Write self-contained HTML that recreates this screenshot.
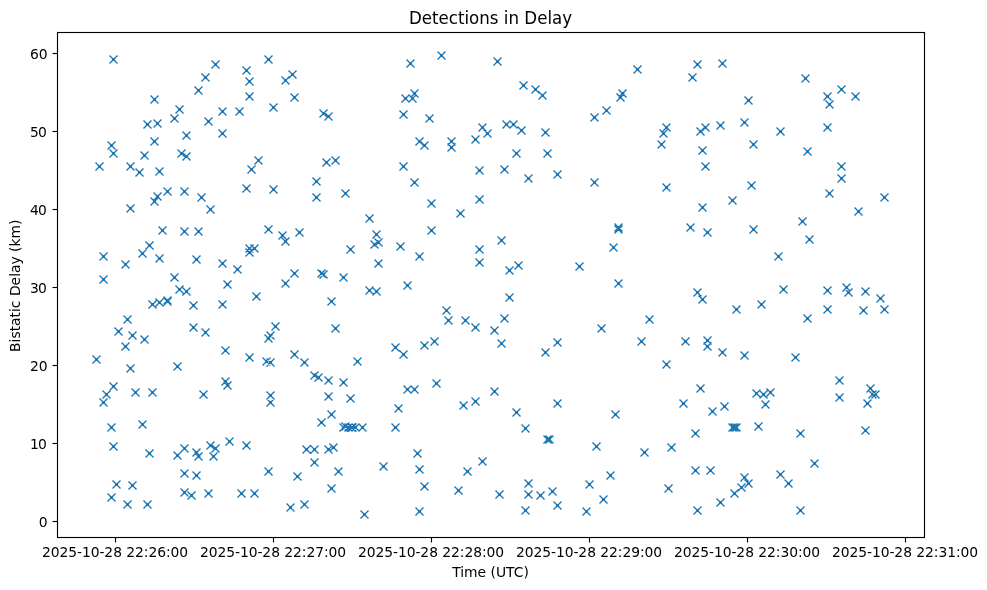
<!DOCTYPE html>
<html><head><meta charset="utf-8"><title>Detections in Delay</title>
<style>
html,body{margin:0;padding:0;background:#fff;width:987px;height:590px;overflow:hidden}
svg{display:block}
text{font-family:"DejaVu Sans","Liberation Sans",sans-serif;fill:#000}
</style></head><body>
<svg width="987" height="590" viewBox="0 0 987 590">
<rect width="987" height="590" fill="#fff"/>
<path d="M109.5 55.5L117.5 63.5M109.5 63.5L117.5 55.5M150.5 95.5L158.5 103.5M150.5 103.5L158.5 95.5M143.5 120.5L151.5 128.5M143.5 128.5L151.5 120.5M153.5 119.5L161.5 127.5M153.5 127.5L161.5 119.5M150.5 137.5L158.5 145.5M150.5 145.5L158.5 137.5M107.5 141.5L115.5 149.5M107.5 149.5L115.5 141.5M170.5 114.5L178.5 122.5M170.5 122.5L178.5 114.5M175.5 105.5L183.5 113.5M175.5 113.5L183.5 105.5M182.5 131.5L190.5 139.5M182.5 139.5L190.5 131.5M194.5 86.5L202.5 94.5M194.5 94.5L202.5 86.5M201.5 73.5L209.5 81.5M201.5 81.5L209.5 73.5M211.5 60.5L219.5 68.5M211.5 68.5L219.5 60.5M204.5 117.5L212.5 125.5M204.5 125.5L212.5 117.5M218.5 107.5L226.5 115.5M218.5 115.5L226.5 107.5M218.5 129.5L226.5 137.5M218.5 137.5L226.5 129.5M235.5 107.5L243.5 115.5M235.5 115.5L243.5 107.5M242.5 66.5L250.5 74.5M242.5 74.5L250.5 66.5M245.5 77.5L253.5 85.5M245.5 85.5L253.5 77.5M245.5 92.5L253.5 100.5M245.5 100.5L253.5 92.5M264.5 55.5L272.5 63.5M264.5 63.5L272.5 55.5M269.5 103.5L277.5 111.5M269.5 111.5L277.5 103.5M281.5 76.5L289.5 84.5M281.5 84.5L289.5 76.5M288.5 70.5L296.5 78.5M288.5 78.5L296.5 70.5M290.5 93.5L298.5 101.5M290.5 101.5L298.5 93.5M319.5 109.5L327.5 117.5M319.5 117.5L327.5 109.5M324.5 112.5L332.5 120.5M324.5 120.5L332.5 112.5M406.5 59.5L414.5 67.5M406.5 67.5L414.5 59.5M437.5 51.5L445.5 59.5M437.5 59.5L445.5 51.5M401.5 94.5L409.5 102.5M401.5 102.5L409.5 94.5M410.5 89.5L418.5 97.5M410.5 97.5L418.5 89.5M408.5 94.5L416.5 102.5M408.5 102.5L416.5 94.5M399.5 110.5L407.5 118.5M399.5 118.5L407.5 110.5M425.5 114.5L433.5 122.5M425.5 122.5L433.5 114.5M415.5 137.5L423.5 145.5M415.5 145.5L423.5 137.5M420.5 141.5L428.5 149.5M420.5 149.5L428.5 141.5M493.5 57.5L501.5 65.5M493.5 65.5L501.5 57.5M519.5 81.5L527.5 89.5M519.5 89.5L527.5 81.5M531.5 85.5L539.5 93.5M531.5 93.5L539.5 85.5M538.5 91.5L546.5 99.5M538.5 99.5L546.5 91.5M590.5 113.5L598.5 121.5M590.5 121.5L598.5 113.5M602.5 106.5L610.5 114.5M602.5 114.5L610.5 106.5M616.5 93.5L624.5 101.5M616.5 101.5L624.5 93.5M618.5 89.5L626.5 97.5M618.5 97.5L626.5 89.5M478.5 123.5L486.5 131.5M478.5 131.5L486.5 123.5M483.5 129.5L491.5 137.5M483.5 137.5L491.5 129.5M471.5 135.5L479.5 143.5M471.5 143.5L479.5 135.5M502.5 120.5L510.5 128.5M502.5 128.5L510.5 120.5M509.5 120.5L517.5 128.5M509.5 128.5L517.5 120.5M517.5 126.5L525.5 134.5M517.5 134.5L525.5 126.5M541.5 128.5L549.5 136.5M541.5 136.5L549.5 128.5M447.5 137.5L455.5 145.5M447.5 145.5L455.5 137.5M633.5 65.5L641.5 73.5M633.5 73.5L641.5 65.5M693.5 60.5L701.5 68.5M693.5 68.5L701.5 60.5M718.5 59.5L726.5 67.5M718.5 67.5L726.5 59.5M688.5 73.5L696.5 81.5M688.5 81.5L696.5 73.5M801.5 74.5L809.5 82.5M801.5 82.5L809.5 74.5M744.5 96.5L752.5 104.5M744.5 104.5L752.5 96.5M662.5 123.5L670.5 131.5M662.5 131.5L670.5 123.5M659.5 129.5L667.5 137.5M659.5 137.5L667.5 129.5M657.5 140.5L665.5 148.5M657.5 148.5L665.5 140.5M696.5 127.5L704.5 135.5M696.5 135.5L704.5 127.5M701.5 123.5L709.5 131.5M701.5 131.5L709.5 123.5M716.5 121.5L724.5 129.5M716.5 129.5L724.5 121.5M740.5 118.5L748.5 126.5M740.5 126.5L748.5 118.5M776.5 127.5L784.5 135.5M776.5 135.5L784.5 127.5M749.5 140.5L757.5 148.5M749.5 148.5L757.5 140.5M823.5 92.5L831.5 100.5M823.5 100.5L831.5 92.5M825.5 100.5L833.5 108.5M825.5 108.5L833.5 100.5M837.5 85.5L845.5 93.5M837.5 93.5L845.5 85.5M851.5 92.5L859.5 100.5M851.5 100.5L859.5 92.5M823.5 123.5L831.5 131.5M823.5 131.5L831.5 123.5M109.5 149.5L117.5 157.5M109.5 157.5L117.5 149.5M140.5 151.5L148.5 159.5M140.5 159.5L148.5 151.5M95.5 162.5L103.5 170.5M95.5 170.5L103.5 162.5M126.5 162.5L134.5 170.5M126.5 170.5L134.5 162.5M135.5 168.5L143.5 176.5M135.5 176.5L143.5 168.5M155.5 167.5L163.5 175.5M155.5 175.5L163.5 167.5M177.5 149.5L185.5 157.5M177.5 157.5L185.5 149.5M182.5 152.5L190.5 160.5M182.5 160.5L190.5 152.5M247.5 165.5L255.5 173.5M247.5 173.5L255.5 165.5M242.5 184.5L250.5 192.5M242.5 192.5L250.5 184.5M163.5 187.5L171.5 195.5M163.5 195.5L171.5 187.5M180.5 187.5L188.5 195.5M180.5 195.5L188.5 187.5M153.5 192.5L161.5 200.5M153.5 200.5L161.5 192.5M150.5 197.5L158.5 205.5M150.5 205.5L158.5 197.5M197.5 193.5L205.5 201.5M197.5 201.5L205.5 193.5M206.5 205.5L214.5 213.5M206.5 213.5L214.5 205.5M126.5 204.5L134.5 212.5M126.5 212.5L134.5 204.5M158.5 226.5L166.5 234.5M158.5 234.5L166.5 226.5M180.5 227.5L188.5 235.5M180.5 235.5L188.5 227.5M194.5 227.5L202.5 235.5M194.5 235.5L202.5 227.5M145.5 241.5L153.5 249.5M145.5 249.5L153.5 241.5M138.5 249.5L146.5 257.5M138.5 257.5L146.5 249.5M99.5 252.5L107.5 260.5M99.5 260.5L107.5 252.5M254.5 156.5L262.5 164.5M254.5 164.5L262.5 156.5M269.5 185.5L277.5 193.5M269.5 193.5L277.5 185.5M322.5 158.5L330.5 166.5M322.5 166.5L330.5 158.5M331.5 156.5L339.5 164.5M331.5 164.5L339.5 156.5M312.5 177.5L320.5 185.5M312.5 185.5L320.5 177.5M312.5 193.5L320.5 201.5M312.5 201.5L320.5 193.5M341.5 189.5L349.5 197.5M341.5 197.5L349.5 189.5M399.5 162.5L407.5 170.5M399.5 170.5L407.5 162.5M410.5 178.5L418.5 186.5M410.5 186.5L418.5 178.5M427.5 199.5L435.5 207.5M427.5 207.5L435.5 199.5M365.5 214.5L373.5 222.5M365.5 222.5L373.5 214.5M372.5 230.5L380.5 238.5M372.5 238.5L380.5 230.5M374.5 238.5L382.5 246.5M374.5 246.5L382.5 238.5M370.5 240.5L378.5 248.5M370.5 248.5L378.5 240.5M396.5 242.5L404.5 250.5M396.5 250.5L404.5 242.5M427.5 226.5L435.5 234.5M427.5 234.5L435.5 226.5M415.5 252.5L423.5 260.5M415.5 260.5L423.5 252.5M346.5 245.5L354.5 253.5M346.5 253.5L354.5 245.5M264.5 225.5L272.5 233.5M264.5 233.5L272.5 225.5M278.5 231.5L286.5 239.5M278.5 239.5L286.5 231.5M281.5 237.5L289.5 245.5M281.5 245.5L289.5 237.5M295.5 228.5L303.5 236.5M295.5 236.5L303.5 228.5M447.5 143.5L455.5 151.5M447.5 151.5L455.5 143.5M512.5 149.5L520.5 157.5M512.5 157.5L520.5 149.5M543.5 149.5L551.5 157.5M543.5 157.5L551.5 149.5M475.5 166.5L483.5 174.5M475.5 174.5L483.5 166.5M500.5 165.5L508.5 173.5M500.5 173.5L508.5 165.5M524.5 174.5L532.5 182.5M524.5 182.5L532.5 174.5M553.5 170.5L561.5 178.5M553.5 178.5L561.5 170.5M590.5 178.5L598.5 186.5M590.5 186.5L598.5 178.5M475.5 195.5L483.5 203.5M475.5 203.5L483.5 195.5M456.5 209.5L464.5 217.5M456.5 217.5L464.5 209.5M609.5 243.5L617.5 251.5M609.5 251.5L617.5 243.5M497.5 236.5L505.5 244.5M497.5 244.5L505.5 236.5M475.5 245.5L483.5 253.5M475.5 253.5L483.5 245.5M698.5 146.5L706.5 154.5M698.5 154.5L706.5 146.5M803.5 147.5L811.5 155.5M803.5 155.5L811.5 147.5M701.5 162.5L709.5 170.5M701.5 170.5L709.5 162.5M662.5 183.5L670.5 191.5M662.5 191.5L670.5 183.5M747.5 181.5L755.5 189.5M747.5 189.5L755.5 181.5M728.5 196.5L736.5 204.5M728.5 204.5L736.5 196.5M698.5 203.5L706.5 211.5M698.5 211.5L706.5 203.5M686.5 223.5L694.5 231.5M686.5 231.5L694.5 223.5M703.5 228.5L711.5 236.5M703.5 236.5L711.5 228.5M749.5 225.5L757.5 233.5M749.5 233.5L757.5 225.5M798.5 217.5L806.5 225.5M798.5 225.5L806.5 217.5M805.5 235.5L813.5 243.5M805.5 243.5L813.5 235.5M774.5 252.5L782.5 260.5M774.5 260.5L782.5 252.5M837.5 162.5L845.5 170.5M837.5 170.5L845.5 162.5M837.5 174.5L845.5 182.5M837.5 182.5L845.5 174.5M825.5 189.5L833.5 197.5M825.5 197.5L833.5 189.5M880.5 193.5L888.5 201.5M880.5 201.5L888.5 193.5M854.5 207.5L862.5 215.5M854.5 215.5L862.5 207.5M155.5 254.5L163.5 262.5M155.5 262.5L163.5 254.5M192.5 255.5L200.5 263.5M192.5 263.5L200.5 255.5M121.5 260.5L129.5 268.5M121.5 268.5L129.5 260.5M218.5 259.5L226.5 267.5M218.5 267.5L226.5 259.5M233.5 265.5L241.5 273.5M233.5 273.5L241.5 265.5M99.5 275.5L107.5 283.5M99.5 283.5L107.5 275.5M170.5 273.5L178.5 281.5M170.5 281.5L178.5 273.5M175.5 285.5L183.5 293.5M175.5 293.5L183.5 285.5M182.5 287.5L190.5 295.5M182.5 295.5L190.5 287.5M223.5 280.5L231.5 288.5M223.5 288.5L231.5 280.5M189.5 301.5L197.5 309.5M189.5 309.5L197.5 301.5M218.5 300.5L226.5 308.5M218.5 308.5L226.5 300.5M123.5 315.5L131.5 323.5M123.5 323.5L131.5 315.5M114.5 327.5L122.5 335.5M114.5 335.5L122.5 327.5M128.5 331.5L136.5 339.5M128.5 339.5L136.5 331.5M140.5 335.5L148.5 343.5M140.5 343.5L148.5 335.5M121.5 342.5L129.5 350.5M121.5 350.5L129.5 342.5M92.5 355.5L100.5 363.5M92.5 363.5L100.5 355.5M189.5 323.5L197.5 331.5M189.5 331.5L197.5 323.5M201.5 328.5L209.5 336.5M201.5 336.5L209.5 328.5M221.5 346.5L229.5 354.5M221.5 354.5L229.5 346.5M245.5 353.5L253.5 361.5M245.5 361.5L253.5 353.5M374.5 259.5L382.5 267.5M374.5 267.5L382.5 259.5M290.5 269.5L298.5 277.5M290.5 277.5L298.5 269.5M281.5 279.5L289.5 287.5M281.5 287.5L289.5 279.5M339.5 273.5L347.5 281.5M339.5 281.5L347.5 273.5M252.5 292.5L260.5 300.5M252.5 300.5L260.5 292.5M327.5 297.5L335.5 305.5M327.5 305.5L335.5 297.5M365.5 286.5L373.5 294.5M365.5 294.5L373.5 286.5M372.5 287.5L380.5 295.5M372.5 295.5L380.5 287.5M403.5 281.5L411.5 289.5M403.5 289.5L411.5 281.5M271.5 322.5L279.5 330.5M271.5 330.5L279.5 322.5M331.5 324.5L339.5 332.5M331.5 332.5L339.5 324.5M290.5 350.5L298.5 358.5M290.5 358.5L298.5 350.5M300.5 358.5L308.5 366.5M300.5 366.5L308.5 358.5M353.5 357.5L361.5 365.5M353.5 365.5L361.5 357.5M391.5 343.5L399.5 351.5M391.5 351.5L399.5 343.5M399.5 350.5L407.5 358.5M399.5 358.5L407.5 350.5M420.5 341.5L428.5 349.5M420.5 349.5L428.5 341.5M430.5 337.5L438.5 345.5M430.5 345.5L438.5 337.5M475.5 258.5L483.5 266.5M475.5 266.5L483.5 258.5M505.5 266.5L513.5 274.5M505.5 274.5L513.5 266.5M514.5 261.5L522.5 269.5M514.5 269.5L522.5 261.5M575.5 262.5L583.5 270.5M575.5 270.5L583.5 262.5M614.5 279.5L622.5 287.5M614.5 287.5L622.5 279.5M505.5 293.5L513.5 301.5M505.5 301.5L513.5 293.5M442.5 306.5L450.5 314.5M442.5 314.5L450.5 306.5M444.5 316.5L452.5 324.5M444.5 324.5L452.5 316.5M461.5 316.5L469.5 324.5M461.5 324.5L469.5 316.5M471.5 323.5L479.5 331.5M471.5 331.5L479.5 323.5M490.5 326.5L498.5 334.5M490.5 334.5L498.5 326.5M500.5 314.5L508.5 322.5M500.5 322.5L508.5 314.5M497.5 339.5L505.5 347.5M497.5 347.5L505.5 339.5M541.5 348.5L549.5 356.5M541.5 356.5L549.5 348.5M553.5 338.5L561.5 346.5M553.5 346.5L561.5 338.5M597.5 324.5L605.5 332.5M597.5 332.5L605.5 324.5M693.5 288.5L701.5 296.5M693.5 296.5L701.5 288.5M698.5 295.5L706.5 303.5M698.5 303.5L706.5 295.5M732.5 305.5L740.5 313.5M732.5 313.5L740.5 305.5M757.5 300.5L765.5 308.5M757.5 308.5L765.5 300.5M779.5 285.5L787.5 293.5M779.5 293.5L787.5 285.5M803.5 314.5L811.5 322.5M803.5 322.5L811.5 314.5M645.5 315.5L653.5 323.5M645.5 323.5L653.5 315.5M637.5 337.5L645.5 345.5M637.5 345.5L645.5 337.5M662.5 360.5L670.5 368.5M662.5 368.5L670.5 360.5M681.5 337.5L689.5 345.5M681.5 345.5L689.5 337.5M703.5 336.5L711.5 344.5M703.5 344.5L711.5 336.5M703.5 342.5L711.5 350.5M703.5 350.5L711.5 342.5M718.5 348.5L726.5 356.5M718.5 356.5L726.5 348.5M740.5 351.5L748.5 359.5M740.5 359.5L748.5 351.5M791.5 353.5L799.5 361.5M791.5 361.5L799.5 353.5M823.5 286.5L831.5 294.5M823.5 294.5L831.5 286.5M842.5 283.5L850.5 291.5M842.5 291.5L850.5 283.5M844.5 288.5L852.5 296.5M844.5 296.5L852.5 288.5M861.5 287.5L869.5 295.5M861.5 295.5L869.5 287.5M876.5 294.5L884.5 302.5M876.5 302.5L884.5 294.5M823.5 305.5L831.5 313.5M823.5 313.5L831.5 305.5M859.5 306.5L867.5 314.5M859.5 314.5L867.5 306.5M880.5 305.5L888.5 313.5M880.5 313.5L888.5 305.5M126.5 364.5L134.5 372.5M126.5 372.5L134.5 364.5M173.5 362.5L181.5 370.5M173.5 370.5L181.5 362.5M109.5 382.5L117.5 390.5M109.5 390.5L117.5 382.5M102.5 390.5L110.5 398.5M102.5 398.5L110.5 390.5M99.5 398.5L107.5 406.5M99.5 406.5L107.5 398.5M131.5 388.5L139.5 396.5M131.5 396.5L139.5 388.5M148.5 388.5L156.5 396.5M148.5 396.5L156.5 388.5M199.5 390.5L207.5 398.5M199.5 398.5L207.5 390.5M221.5 377.5L229.5 385.5M221.5 385.5L229.5 377.5M223.5 381.5L231.5 389.5M223.5 389.5L231.5 381.5M107.5 423.5L115.5 431.5M107.5 431.5L115.5 423.5M138.5 420.5L146.5 428.5M138.5 428.5L146.5 420.5M109.5 442.5L117.5 450.5M109.5 450.5L117.5 442.5M145.5 449.5L153.5 457.5M145.5 457.5L153.5 449.5M173.5 451.5L181.5 459.5M173.5 459.5L181.5 451.5M180.5 444.5L188.5 452.5M180.5 452.5L188.5 444.5M225.5 437.5L233.5 445.5M225.5 445.5L233.5 437.5M242.5 441.5L250.5 449.5M242.5 449.5L250.5 441.5M180.5 469.5L188.5 477.5M180.5 477.5L188.5 469.5M192.5 471.5L200.5 479.5M192.5 479.5L200.5 471.5M310.5 371.5L318.5 379.5M310.5 379.5L318.5 371.5M314.5 373.5L322.5 381.5M314.5 381.5L322.5 373.5M324.5 376.5L332.5 384.5M324.5 384.5L332.5 376.5M339.5 378.5L347.5 386.5M339.5 386.5L347.5 378.5M266.5 391.5L274.5 399.5M266.5 399.5L274.5 391.5M266.5 398.5L274.5 406.5M266.5 406.5L274.5 398.5M324.5 392.5L332.5 400.5M324.5 400.5L332.5 392.5M346.5 394.5L354.5 402.5M346.5 402.5L354.5 394.5M327.5 410.5L335.5 418.5M327.5 418.5L335.5 410.5M317.5 418.5L325.5 426.5M317.5 426.5L325.5 418.5M403.5 385.5L411.5 393.5M403.5 393.5L411.5 385.5M410.5 385.5L418.5 393.5M410.5 393.5L418.5 385.5M432.5 379.5L440.5 387.5M432.5 387.5L440.5 379.5M394.5 404.5L402.5 412.5M394.5 412.5L402.5 404.5M391.5 423.5L399.5 431.5M391.5 431.5L399.5 423.5M302.5 445.5L310.5 453.5M302.5 453.5L310.5 445.5M310.5 445.5L318.5 453.5M310.5 453.5L318.5 445.5M324.5 445.5L332.5 453.5M324.5 453.5L332.5 445.5M329.5 443.5L337.5 451.5M329.5 451.5L337.5 443.5M310.5 458.5L318.5 466.5M310.5 466.5L318.5 458.5M264.5 467.5L272.5 475.5M264.5 475.5L272.5 467.5M293.5 472.5L301.5 480.5M293.5 480.5L301.5 472.5M334.5 467.5L342.5 475.5M334.5 475.5L342.5 467.5M379.5 462.5L387.5 470.5M379.5 470.5L387.5 462.5M413.5 449.5L421.5 457.5M413.5 457.5L421.5 449.5M415.5 465.5L423.5 473.5M415.5 473.5L423.5 465.5M459.5 401.5L467.5 409.5M459.5 409.5L467.5 401.5M471.5 397.5L479.5 405.5M471.5 405.5L479.5 397.5M490.5 387.5L498.5 395.5M490.5 395.5L498.5 387.5M512.5 408.5L520.5 416.5M512.5 416.5L520.5 408.5M521.5 424.5L529.5 432.5M521.5 432.5L529.5 424.5M553.5 399.5L561.5 407.5M553.5 407.5L561.5 399.5M611.5 410.5L619.5 418.5M611.5 418.5L619.5 410.5M592.5 442.5L600.5 450.5M592.5 450.5L600.5 442.5M478.5 457.5L486.5 465.5M478.5 465.5L486.5 457.5M463.5 467.5L471.5 475.5M463.5 475.5L471.5 467.5M606.5 471.5L614.5 479.5M606.5 479.5L614.5 471.5M696.5 384.5L704.5 392.5M696.5 392.5L704.5 384.5M679.5 399.5L687.5 407.5M679.5 407.5L687.5 399.5M708.5 407.5L716.5 415.5M708.5 415.5L716.5 407.5M720.5 402.5L728.5 410.5M720.5 410.5L728.5 402.5M752.5 389.5L760.5 397.5M752.5 397.5L760.5 389.5M759.5 390.5L767.5 398.5M759.5 398.5L767.5 390.5M766.5 388.5L774.5 396.5M766.5 396.5L774.5 388.5M761.5 400.5L769.5 408.5M761.5 408.5L769.5 400.5M754.5 422.5L762.5 430.5M754.5 430.5L762.5 422.5M691.5 429.5L699.5 437.5M691.5 437.5L699.5 429.5M796.5 429.5L804.5 437.5M796.5 437.5L804.5 429.5M667.5 443.5L675.5 451.5M667.5 451.5L675.5 443.5M640.5 448.5L648.5 456.5M640.5 456.5L648.5 448.5M691.5 466.5L699.5 474.5M691.5 474.5L699.5 466.5M706.5 466.5L714.5 474.5M706.5 474.5L714.5 466.5M740.5 473.5L748.5 481.5M740.5 481.5L748.5 473.5M776.5 470.5L784.5 478.5M776.5 478.5L784.5 470.5M810.5 459.5L818.5 467.5M810.5 467.5L818.5 459.5M835.5 376.5L843.5 384.5M835.5 384.5L843.5 376.5M835.5 393.5L843.5 401.5M835.5 401.5L843.5 393.5M863.5 399.5L871.5 407.5M863.5 407.5L871.5 399.5M861.5 426.5L869.5 434.5M861.5 434.5L869.5 426.5M112.5 480.5L120.5 488.5M112.5 488.5L120.5 480.5M128.5 481.5L136.5 489.5M128.5 489.5L136.5 481.5M107.5 493.5L115.5 501.5M107.5 501.5L115.5 493.5M123.5 500.5L131.5 508.5M123.5 508.5L131.5 500.5M143.5 500.5L151.5 508.5M143.5 508.5L151.5 500.5M180.5 488.5L188.5 496.5M180.5 496.5L188.5 488.5M187.5 491.5L195.5 499.5M187.5 499.5L195.5 491.5M204.5 489.5L212.5 497.5M204.5 497.5L212.5 489.5M237.5 489.5L245.5 497.5M237.5 497.5L245.5 489.5M420.5 482.5L428.5 490.5M420.5 490.5L428.5 482.5M327.5 484.5L335.5 492.5M327.5 492.5L335.5 484.5M250.5 489.5L258.5 497.5M250.5 497.5L258.5 489.5M286.5 503.5L294.5 511.5M286.5 511.5L294.5 503.5M300.5 500.5L308.5 508.5M300.5 508.5L308.5 500.5M360.5 510.5L368.5 518.5M360.5 518.5L368.5 510.5M415.5 507.5L423.5 515.5M415.5 515.5L423.5 507.5M454.5 486.5L462.5 494.5M454.5 494.5L462.5 486.5M495.5 490.5L503.5 498.5M495.5 498.5L503.5 490.5M524.5 479.5L532.5 487.5M524.5 487.5L532.5 479.5M524.5 490.5L532.5 498.5M524.5 498.5L532.5 490.5M521.5 506.5L529.5 514.5M521.5 514.5L529.5 506.5M536.5 491.5L544.5 499.5M536.5 499.5L544.5 491.5M548.5 487.5L556.5 495.5M548.5 495.5L556.5 487.5M553.5 501.5L561.5 509.5M553.5 509.5L561.5 501.5M585.5 480.5L593.5 488.5M585.5 488.5L593.5 480.5M582.5 507.5L590.5 515.5M582.5 515.5L590.5 507.5M599.5 495.5L607.5 503.5M599.5 503.5L607.5 495.5M664.5 484.5L672.5 492.5M664.5 492.5L672.5 484.5M693.5 506.5L701.5 514.5M693.5 514.5L701.5 506.5M716.5 498.5L724.5 506.5M716.5 506.5L724.5 498.5M730.5 489.5L738.5 497.5M730.5 497.5L738.5 489.5M737.5 483.5L745.5 491.5M737.5 491.5L745.5 483.5M744.5 479.5L752.5 487.5M744.5 487.5L752.5 479.5M784.5 479.5L792.5 487.5M784.5 487.5L792.5 479.5M796.5 506.5L804.5 514.5M796.5 514.5L804.5 506.5M245.5 244.5L253.5 252.5M245.5 252.5L253.5 244.5M250.5 244.5L258.5 252.5M250.5 252.5L258.5 244.5M245.5 248.5L253.5 256.5M245.5 256.5L253.5 248.5M614.5 223.5L622.5 231.5M614.5 231.5L622.5 223.5M614.5 225.5L622.5 233.5M614.5 233.5L622.5 225.5M148.5 300.5L156.5 308.5M148.5 308.5L156.5 300.5M155.5 298.5L163.5 306.5M155.5 306.5L163.5 298.5M163.5 296.5L171.5 304.5M163.5 304.5L171.5 296.5M163.5 297.5L171.5 305.5M163.5 305.5L171.5 297.5M317.5 269.5L325.5 277.5M317.5 277.5L325.5 269.5M319.5 270.5L327.5 278.5M319.5 278.5L327.5 270.5M264.5 334.5L272.5 342.5M264.5 342.5L272.5 334.5M266.5 331.5L274.5 339.5M266.5 339.5L274.5 331.5M262.5 357.5L270.5 365.5M262.5 365.5L270.5 357.5M266.5 358.5L274.5 366.5M266.5 366.5L274.5 358.5M192.5 448.5L200.5 456.5M192.5 456.5L200.5 448.5M194.5 452.5L202.5 460.5M194.5 460.5L202.5 452.5M206.5 441.5L214.5 449.5M206.5 449.5L214.5 441.5M211.5 444.5L219.5 452.5M211.5 452.5L219.5 444.5M209.5 452.5L217.5 460.5M209.5 460.5L217.5 452.5M339.5 423.5L347.5 431.5M339.5 431.5L347.5 423.5M341.5 422.5L349.5 430.5M341.5 430.5L349.5 422.5M344.5 423.5L352.5 431.5M344.5 431.5L352.5 423.5M347.5 423.5L355.5 431.5M347.5 431.5L355.5 423.5M348.5 423.5L356.5 431.5M348.5 431.5L356.5 423.5M351.5 423.5L359.5 431.5M351.5 431.5L359.5 423.5M358.5 423.5L366.5 431.5M358.5 431.5L366.5 423.5M543.5 435.5L551.5 443.5M543.5 443.5L551.5 435.5M545.5 435.5L553.5 443.5M545.5 443.5L553.5 435.5M728.5 423.5L736.5 431.5M728.5 431.5L736.5 423.5M730.5 423.5L738.5 431.5M730.5 431.5L738.5 423.5M732.5 423.5L740.5 431.5M732.5 431.5L740.5 423.5M866.5 384.5L874.5 392.5M866.5 392.5L874.5 384.5M868.5 390.5L876.5 398.5M868.5 398.5L876.5 390.5M871.5 390.5L879.5 398.5M871.5 398.5L879.5 390.5" fill="none" stroke="#1f77b4" stroke-width="1.389"/><path d="M112 59h3v1h-3zM113 58h1v3h-1zM153 99h3v1h-3zM154 98h1v3h-1zM146 124h3v1h-3zM147 123h1v3h-1zM156 123h3v1h-3zM157 122h1v3h-1zM153 141h3v1h-3zM154 140h1v3h-1zM110 145h3v1h-3zM111 144h1v3h-1zM173 118h3v1h-3zM174 117h1v3h-1zM178 109h3v1h-3zM179 108h1v3h-1zM185 135h3v1h-3zM186 134h1v3h-1zM197 90h3v1h-3zM198 89h1v3h-1zM204 77h3v1h-3zM205 76h1v3h-1zM214 64h3v1h-3zM215 63h1v3h-1zM207 121h3v1h-3zM208 120h1v3h-1zM221 111h3v1h-3zM222 110h1v3h-1zM221 133h3v1h-3zM222 132h1v3h-1zM238 111h3v1h-3zM239 110h1v3h-1zM245 70h3v1h-3zM246 69h1v3h-1zM248 81h3v1h-3zM249 80h1v3h-1zM248 96h3v1h-3zM249 95h1v3h-1zM267 59h3v1h-3zM268 58h1v3h-1zM272 107h3v1h-3zM273 106h1v3h-1zM284 80h3v1h-3zM285 79h1v3h-1zM291 74h3v1h-3zM292 73h1v3h-1zM293 97h3v1h-3zM294 96h1v3h-1zM322 113h3v1h-3zM323 112h1v3h-1zM327 116h3v1h-3zM328 115h1v3h-1zM409 63h3v1h-3zM410 62h1v3h-1zM440 55h3v1h-3zM441 54h1v3h-1zM404 98h3v1h-3zM405 97h1v3h-1zM413 93h3v1h-3zM414 92h1v3h-1zM411 98h3v1h-3zM412 97h1v3h-1zM402 114h3v1h-3zM403 113h1v3h-1zM428 118h3v1h-3zM429 117h1v3h-1zM418 141h3v1h-3zM419 140h1v3h-1zM423 145h3v1h-3zM424 144h1v3h-1zM496 61h3v1h-3zM497 60h1v3h-1zM522 85h3v1h-3zM523 84h1v3h-1zM534 89h3v1h-3zM535 88h1v3h-1zM541 95h3v1h-3zM542 94h1v3h-1zM593 117h3v1h-3zM594 116h1v3h-1zM605 110h3v1h-3zM606 109h1v3h-1zM619 97h3v1h-3zM620 96h1v3h-1zM621 93h3v1h-3zM622 92h1v3h-1zM481 127h3v1h-3zM482 126h1v3h-1zM486 133h3v1h-3zM487 132h1v3h-1zM474 139h3v1h-3zM475 138h1v3h-1zM505 124h3v1h-3zM506 123h1v3h-1zM512 124h3v1h-3zM513 123h1v3h-1zM520 130h3v1h-3zM521 129h1v3h-1zM544 132h3v1h-3zM545 131h1v3h-1zM450 141h3v1h-3zM451 140h1v3h-1zM636 69h3v1h-3zM637 68h1v3h-1zM696 64h3v1h-3zM697 63h1v3h-1zM721 63h3v1h-3zM722 62h1v3h-1zM691 77h3v1h-3zM692 76h1v3h-1zM804 78h3v1h-3zM805 77h1v3h-1zM747 100h3v1h-3zM748 99h1v3h-1zM665 127h3v1h-3zM666 126h1v3h-1zM662 133h3v1h-3zM663 132h1v3h-1zM660 144h3v1h-3zM661 143h1v3h-1zM699 131h3v1h-3zM700 130h1v3h-1zM704 127h3v1h-3zM705 126h1v3h-1zM719 125h3v1h-3zM720 124h1v3h-1zM743 122h3v1h-3zM744 121h1v3h-1zM779 131h3v1h-3zM780 130h1v3h-1zM752 144h3v1h-3zM753 143h1v3h-1zM826 96h3v1h-3zM827 95h1v3h-1zM828 104h3v1h-3zM829 103h1v3h-1zM840 89h3v1h-3zM841 88h1v3h-1zM854 96h3v1h-3zM855 95h1v3h-1zM826 127h3v1h-3zM827 126h1v3h-1zM112 153h3v1h-3zM113 152h1v3h-1zM143 155h3v1h-3zM144 154h1v3h-1zM98 166h3v1h-3zM99 165h1v3h-1zM129 166h3v1h-3zM130 165h1v3h-1zM138 172h3v1h-3zM139 171h1v3h-1zM158 171h3v1h-3zM159 170h1v3h-1zM180 153h3v1h-3zM181 152h1v3h-1zM185 156h3v1h-3zM186 155h1v3h-1zM250 169h3v1h-3zM251 168h1v3h-1zM245 188h3v1h-3zM246 187h1v3h-1zM166 191h3v1h-3zM167 190h1v3h-1zM183 191h3v1h-3zM184 190h1v3h-1zM156 196h3v1h-3zM157 195h1v3h-1zM153 201h3v1h-3zM154 200h1v3h-1zM200 197h3v1h-3zM201 196h1v3h-1zM209 209h3v1h-3zM210 208h1v3h-1zM129 208h3v1h-3zM130 207h1v3h-1zM161 230h3v1h-3zM162 229h1v3h-1zM183 231h3v1h-3zM184 230h1v3h-1zM197 231h3v1h-3zM198 230h1v3h-1zM148 245h3v1h-3zM149 244h1v3h-1zM141 253h3v1h-3zM142 252h1v3h-1zM102 256h3v1h-3zM103 255h1v3h-1zM257 160h3v1h-3zM258 159h1v3h-1zM272 189h3v1h-3zM273 188h1v3h-1zM325 162h3v1h-3zM326 161h1v3h-1zM334 160h3v1h-3zM335 159h1v3h-1zM315 181h3v1h-3zM316 180h1v3h-1zM315 197h3v1h-3zM316 196h1v3h-1zM344 193h3v1h-3zM345 192h1v3h-1zM402 166h3v1h-3zM403 165h1v3h-1zM413 182h3v1h-3zM414 181h1v3h-1zM430 203h3v1h-3zM431 202h1v3h-1zM368 218h3v1h-3zM369 217h1v3h-1zM375 234h3v1h-3zM376 233h1v3h-1zM377 242h3v1h-3zM378 241h1v3h-1zM373 244h3v1h-3zM374 243h1v3h-1zM399 246h3v1h-3zM400 245h1v3h-1zM430 230h3v1h-3zM431 229h1v3h-1zM418 256h3v1h-3zM419 255h1v3h-1zM349 249h3v1h-3zM350 248h1v3h-1zM267 229h3v1h-3zM268 228h1v3h-1zM281 235h3v1h-3zM282 234h1v3h-1zM284 241h3v1h-3zM285 240h1v3h-1zM298 232h3v1h-3zM299 231h1v3h-1zM450 147h3v1h-3zM451 146h1v3h-1zM515 153h3v1h-3zM516 152h1v3h-1zM546 153h3v1h-3zM547 152h1v3h-1zM478 170h3v1h-3zM479 169h1v3h-1zM503 169h3v1h-3zM504 168h1v3h-1zM527 178h3v1h-3zM528 177h1v3h-1zM556 174h3v1h-3zM557 173h1v3h-1zM593 182h3v1h-3zM594 181h1v3h-1zM478 199h3v1h-3zM479 198h1v3h-1zM459 213h3v1h-3zM460 212h1v3h-1zM612 247h3v1h-3zM613 246h1v3h-1zM500 240h3v1h-3zM501 239h1v3h-1zM478 249h3v1h-3zM479 248h1v3h-1zM701 150h3v1h-3zM702 149h1v3h-1zM806 151h3v1h-3zM807 150h1v3h-1zM704 166h3v1h-3zM705 165h1v3h-1zM665 187h3v1h-3zM666 186h1v3h-1zM750 185h3v1h-3zM751 184h1v3h-1zM731 200h3v1h-3zM732 199h1v3h-1zM701 207h3v1h-3zM702 206h1v3h-1zM689 227h3v1h-3zM690 226h1v3h-1zM706 232h3v1h-3zM707 231h1v3h-1zM752 229h3v1h-3zM753 228h1v3h-1zM801 221h3v1h-3zM802 220h1v3h-1zM808 239h3v1h-3zM809 238h1v3h-1zM777 256h3v1h-3zM778 255h1v3h-1zM840 166h3v1h-3zM841 165h1v3h-1zM840 178h3v1h-3zM841 177h1v3h-1zM828 193h3v1h-3zM829 192h1v3h-1zM883 197h3v1h-3zM884 196h1v3h-1zM857 211h3v1h-3zM858 210h1v3h-1zM158 258h3v1h-3zM159 257h1v3h-1zM195 259h3v1h-3zM196 258h1v3h-1zM124 264h3v1h-3zM125 263h1v3h-1zM221 263h3v1h-3zM222 262h1v3h-1zM236 269h3v1h-3zM237 268h1v3h-1zM102 279h3v1h-3zM103 278h1v3h-1zM173 277h3v1h-3zM174 276h1v3h-1zM178 289h3v1h-3zM179 288h1v3h-1zM185 291h3v1h-3zM186 290h1v3h-1zM226 284h3v1h-3zM227 283h1v3h-1zM192 305h3v1h-3zM193 304h1v3h-1zM221 304h3v1h-3zM222 303h1v3h-1zM126 319h3v1h-3zM127 318h1v3h-1zM117 331h3v1h-3zM118 330h1v3h-1zM131 335h3v1h-3zM132 334h1v3h-1zM143 339h3v1h-3zM144 338h1v3h-1zM124 346h3v1h-3zM125 345h1v3h-1zM95 359h3v1h-3zM96 358h1v3h-1zM192 327h3v1h-3zM193 326h1v3h-1zM204 332h3v1h-3zM205 331h1v3h-1zM224 350h3v1h-3zM225 349h1v3h-1zM248 357h3v1h-3zM249 356h1v3h-1zM377 263h3v1h-3zM378 262h1v3h-1zM293 273h3v1h-3zM294 272h1v3h-1zM284 283h3v1h-3zM285 282h1v3h-1zM342 277h3v1h-3zM343 276h1v3h-1zM255 296h3v1h-3zM256 295h1v3h-1zM330 301h3v1h-3zM331 300h1v3h-1zM368 290h3v1h-3zM369 289h1v3h-1zM375 291h3v1h-3zM376 290h1v3h-1zM406 285h3v1h-3zM407 284h1v3h-1zM274 326h3v1h-3zM275 325h1v3h-1zM334 328h3v1h-3zM335 327h1v3h-1zM293 354h3v1h-3zM294 353h1v3h-1zM303 362h3v1h-3zM304 361h1v3h-1zM356 361h3v1h-3zM357 360h1v3h-1zM394 347h3v1h-3zM395 346h1v3h-1zM402 354h3v1h-3zM403 353h1v3h-1zM423 345h3v1h-3zM424 344h1v3h-1zM433 341h3v1h-3zM434 340h1v3h-1zM478 262h3v1h-3zM479 261h1v3h-1zM508 270h3v1h-3zM509 269h1v3h-1zM517 265h3v1h-3zM518 264h1v3h-1zM578 266h3v1h-3zM579 265h1v3h-1zM617 283h3v1h-3zM618 282h1v3h-1zM508 297h3v1h-3zM509 296h1v3h-1zM445 310h3v1h-3zM446 309h1v3h-1zM447 320h3v1h-3zM448 319h1v3h-1zM464 320h3v1h-3zM465 319h1v3h-1zM474 327h3v1h-3zM475 326h1v3h-1zM493 330h3v1h-3zM494 329h1v3h-1zM503 318h3v1h-3zM504 317h1v3h-1zM500 343h3v1h-3zM501 342h1v3h-1zM544 352h3v1h-3zM545 351h1v3h-1zM556 342h3v1h-3zM557 341h1v3h-1zM600 328h3v1h-3zM601 327h1v3h-1zM696 292h3v1h-3zM697 291h1v3h-1zM701 299h3v1h-3zM702 298h1v3h-1zM735 309h3v1h-3zM736 308h1v3h-1zM760 304h3v1h-3zM761 303h1v3h-1zM782 289h3v1h-3zM783 288h1v3h-1zM806 318h3v1h-3zM807 317h1v3h-1zM648 319h3v1h-3zM649 318h1v3h-1zM640 341h3v1h-3zM641 340h1v3h-1zM665 364h3v1h-3zM666 363h1v3h-1zM684 341h3v1h-3zM685 340h1v3h-1zM706 340h3v1h-3zM707 339h1v3h-1zM706 346h3v1h-3zM707 345h1v3h-1zM721 352h3v1h-3zM722 351h1v3h-1zM743 355h3v1h-3zM744 354h1v3h-1zM794 357h3v1h-3zM795 356h1v3h-1zM826 290h3v1h-3zM827 289h1v3h-1zM845 287h3v1h-3zM846 286h1v3h-1zM847 292h3v1h-3zM848 291h1v3h-1zM864 291h3v1h-3zM865 290h1v3h-1zM879 298h3v1h-3zM880 297h1v3h-1zM826 309h3v1h-3zM827 308h1v3h-1zM862 310h3v1h-3zM863 309h1v3h-1zM883 309h3v1h-3zM884 308h1v3h-1zM129 368h3v1h-3zM130 367h1v3h-1zM176 366h3v1h-3zM177 365h1v3h-1zM112 386h3v1h-3zM113 385h1v3h-1zM105 394h3v1h-3zM106 393h1v3h-1zM102 402h3v1h-3zM103 401h1v3h-1zM134 392h3v1h-3zM135 391h1v3h-1zM151 392h3v1h-3zM152 391h1v3h-1zM202 394h3v1h-3zM203 393h1v3h-1zM224 381h3v1h-3zM225 380h1v3h-1zM226 385h3v1h-3zM227 384h1v3h-1zM110 427h3v1h-3zM111 426h1v3h-1zM141 424h3v1h-3zM142 423h1v3h-1zM112 446h3v1h-3zM113 445h1v3h-1zM148 453h3v1h-3zM149 452h1v3h-1zM176 455h3v1h-3zM177 454h1v3h-1zM183 448h3v1h-3zM184 447h1v3h-1zM228 441h3v1h-3zM229 440h1v3h-1zM245 445h3v1h-3zM246 444h1v3h-1zM183 473h3v1h-3zM184 472h1v3h-1zM195 475h3v1h-3zM196 474h1v3h-1zM313 375h3v1h-3zM314 374h1v3h-1zM317 377h3v1h-3zM318 376h1v3h-1zM327 380h3v1h-3zM328 379h1v3h-1zM342 382h3v1h-3zM343 381h1v3h-1zM269 395h3v1h-3zM270 394h1v3h-1zM269 402h3v1h-3zM270 401h1v3h-1zM327 396h3v1h-3zM328 395h1v3h-1zM349 398h3v1h-3zM350 397h1v3h-1zM330 414h3v1h-3zM331 413h1v3h-1zM320 422h3v1h-3zM321 421h1v3h-1zM406 389h3v1h-3zM407 388h1v3h-1zM413 389h3v1h-3zM414 388h1v3h-1zM435 383h3v1h-3zM436 382h1v3h-1zM397 408h3v1h-3zM398 407h1v3h-1zM394 427h3v1h-3zM395 426h1v3h-1zM305 449h3v1h-3zM306 448h1v3h-1zM313 449h3v1h-3zM314 448h1v3h-1zM327 449h3v1h-3zM328 448h1v3h-1zM332 447h3v1h-3zM333 446h1v3h-1zM313 462h3v1h-3zM314 461h1v3h-1zM267 471h3v1h-3zM268 470h1v3h-1zM296 476h3v1h-3zM297 475h1v3h-1zM337 471h3v1h-3zM338 470h1v3h-1zM382 466h3v1h-3zM383 465h1v3h-1zM416 453h3v1h-3zM417 452h1v3h-1zM418 469h3v1h-3zM419 468h1v3h-1zM462 405h3v1h-3zM463 404h1v3h-1zM474 401h3v1h-3zM475 400h1v3h-1zM493 391h3v1h-3zM494 390h1v3h-1zM515 412h3v1h-3zM516 411h1v3h-1zM524 428h3v1h-3zM525 427h1v3h-1zM556 403h3v1h-3zM557 402h1v3h-1zM614 414h3v1h-3zM615 413h1v3h-1zM595 446h3v1h-3zM596 445h1v3h-1zM481 461h3v1h-3zM482 460h1v3h-1zM466 471h3v1h-3zM467 470h1v3h-1zM609 475h3v1h-3zM610 474h1v3h-1zM699 388h3v1h-3zM700 387h1v3h-1zM682 403h3v1h-3zM683 402h1v3h-1zM711 411h3v1h-3zM712 410h1v3h-1zM723 406h3v1h-3zM724 405h1v3h-1zM755 393h3v1h-3zM756 392h1v3h-1zM762 394h3v1h-3zM763 393h1v3h-1zM769 392h3v1h-3zM770 391h1v3h-1zM764 404h3v1h-3zM765 403h1v3h-1zM757 426h3v1h-3zM758 425h1v3h-1zM694 433h3v1h-3zM695 432h1v3h-1zM799 433h3v1h-3zM800 432h1v3h-1zM670 447h3v1h-3zM671 446h1v3h-1zM643 452h3v1h-3zM644 451h1v3h-1zM694 470h3v1h-3zM695 469h1v3h-1zM709 470h3v1h-3zM710 469h1v3h-1zM743 477h3v1h-3zM744 476h1v3h-1zM779 474h3v1h-3zM780 473h1v3h-1zM813 463h3v1h-3zM814 462h1v3h-1zM838 380h3v1h-3zM839 379h1v3h-1zM838 397h3v1h-3zM839 396h1v3h-1zM866 403h3v1h-3zM867 402h1v3h-1zM864 430h3v1h-3zM865 429h1v3h-1zM115 484h3v1h-3zM116 483h1v3h-1zM131 485h3v1h-3zM132 484h1v3h-1zM110 497h3v1h-3zM111 496h1v3h-1zM126 504h3v1h-3zM127 503h1v3h-1zM146 504h3v1h-3zM147 503h1v3h-1zM183 492h3v1h-3zM184 491h1v3h-1zM190 495h3v1h-3zM191 494h1v3h-1zM207 493h3v1h-3zM208 492h1v3h-1zM240 493h3v1h-3zM241 492h1v3h-1zM423 486h3v1h-3zM424 485h1v3h-1zM330 488h3v1h-3zM331 487h1v3h-1zM253 493h3v1h-3zM254 492h1v3h-1zM289 507h3v1h-3zM290 506h1v3h-1zM303 504h3v1h-3zM304 503h1v3h-1zM363 514h3v1h-3zM364 513h1v3h-1zM418 511h3v1h-3zM419 510h1v3h-1zM457 490h3v1h-3zM458 489h1v3h-1zM498 494h3v1h-3zM499 493h1v3h-1zM527 483h3v1h-3zM528 482h1v3h-1zM527 494h3v1h-3zM528 493h1v3h-1zM524 510h3v1h-3zM525 509h1v3h-1zM539 495h3v1h-3zM540 494h1v3h-1zM551 491h3v1h-3zM552 490h1v3h-1zM556 505h3v1h-3zM557 504h1v3h-1zM588 484h3v1h-3zM589 483h1v3h-1zM585 511h3v1h-3zM586 510h1v3h-1zM602 499h3v1h-3zM603 498h1v3h-1zM667 488h3v1h-3zM668 487h1v3h-1zM696 510h3v1h-3zM697 509h1v3h-1zM719 502h3v1h-3zM720 501h1v3h-1zM733 493h3v1h-3zM734 492h1v3h-1zM740 487h3v1h-3zM741 486h1v3h-1zM747 483h3v1h-3zM748 482h1v3h-1zM787 483h3v1h-3zM788 482h1v3h-1zM799 510h3v1h-3zM800 509h1v3h-1zM248 248h3v1h-3zM249 247h1v3h-1zM253 248h3v1h-3zM254 247h1v3h-1zM248 252h3v1h-3zM249 251h1v3h-1zM617 227h3v1h-3zM618 226h1v3h-1zM617 229h3v1h-3zM618 228h1v3h-1zM151 304h3v1h-3zM152 303h1v3h-1zM158 302h3v1h-3zM159 301h1v3h-1zM166 300h3v1h-3zM167 299h1v3h-1zM166 301h3v1h-3zM167 300h1v3h-1zM320 273h3v1h-3zM321 272h1v3h-1zM322 274h3v1h-3zM323 273h1v3h-1zM267 338h3v1h-3zM268 337h1v3h-1zM269 335h3v1h-3zM270 334h1v3h-1zM265 361h3v1h-3zM266 360h1v3h-1zM269 362h3v1h-3zM270 361h1v3h-1zM195 452h3v1h-3zM196 451h1v3h-1zM197 456h3v1h-3zM198 455h1v3h-1zM209 445h3v1h-3zM210 444h1v3h-1zM214 448h3v1h-3zM215 447h1v3h-1zM212 456h3v1h-3zM213 455h1v3h-1zM342 427h3v1h-3zM343 426h1v3h-1zM344 426h3v1h-3zM345 425h1v3h-1zM347 427h3v1h-3zM348 426h1v3h-1zM350 427h3v1h-3zM351 426h1v3h-1zM351 427h3v1h-3zM352 426h1v3h-1zM354 427h3v1h-3zM355 426h1v3h-1zM361 427h3v1h-3zM362 426h1v3h-1zM546 439h3v1h-3zM547 438h1v3h-1zM548 439h3v1h-3zM549 438h1v3h-1zM731 427h3v1h-3zM732 426h1v3h-1zM733 427h3v1h-3zM734 426h1v3h-1zM735 427h3v1h-3zM736 426h1v3h-1zM869 388h3v1h-3zM870 387h1v3h-1zM871 394h3v1h-3zM872 393h1v3h-1zM874 394h3v1h-3zM875 393h1v3h-1z" fill="#1f77b4" fill-opacity="0.96"/>
<path d="M57 31h868v1h-868zM57 33h868v1h-868zM57 536h868v1h-868zM57 538h868v1h-868zM52.5 520h4.5v1h-4.5zM52.5 522h4.5v1h-4.5zM52.5 442h4.5v1h-4.5zM52.5 444h4.5v1h-4.5zM52.5 364h4.5v1h-4.5zM52.5 366h4.5v1h-4.5zM52.5 286h4.5v1h-4.5zM52.5 288h4.5v1h-4.5zM52.5 208h4.5v1h-4.5zM52.5 210h4.5v1h-4.5zM52.5 130h4.5v1h-4.5zM52.5 132h4.5v1h-4.5zM52.5 52h4.5v1h-4.5zM52.5 54h4.5v1h-4.5z" fill="#000" fill-opacity="0.055"/>
<path d="M57.5 32.5L924.5 32.5L924.5 537.5L57.5 537.5Z" fill="none" stroke="#000" stroke-width="1.111" stroke-linejoin="miter" stroke-linecap="square"/>
<path d="M115.5 537.5L115.5 542.5M273.5 537.5L273.5 542.5M431.5 537.5L431.5 542.5M589.5 537.5L589.5 542.5M747.5 537.5L747.5 542.5M905.5 537.5L905.5 542.5M57.5 521.5L52.5 521.5M57.5 443.5L52.5 443.5M57.5 365.5L52.5 365.5M57.5 287.5L52.5 287.5M57.5 209.5L52.5 209.5M57.5 131.5L52.5 131.5M57.5 53.5L52.5 53.5" stroke="#000" stroke-width="1.111" fill="none"/>
<g font-size="13.889">
<text x="115" y="556.776" text-anchor="middle" letter-spacing="-0.06">2025-10-28 22:26:00</text>
<text x="273" y="556.776" text-anchor="middle" letter-spacing="-0.06">2025-10-28 22:27:00</text>
<text x="431" y="556.776" text-anchor="middle" letter-spacing="-0.06">2025-10-28 22:28:00</text>
<text x="589" y="556.776" text-anchor="middle" letter-spacing="-0.06">2025-10-28 22:29:00</text>
<text x="747" y="556.776" text-anchor="middle" letter-spacing="-0.06">2025-10-28 22:30:00</text>
<text x="905" y="556.776" text-anchor="middle" letter-spacing="-0.06">2025-10-28 22:31:00</text>
<text x="47.678" y="526.777" text-anchor="end">0</text>
<text x="46.828" y="448.777" text-anchor="end" dx="0 -0.85">10</text>
<text x="47.678" y="370.777" text-anchor="end">20</text>
<text x="46.828" y="292.777" text-anchor="end" dx="0 -0.85">30</text>
<text x="46.828" y="214.777" text-anchor="end" dx="0 -0.85">40</text>
<text x="46.828" y="136.777" text-anchor="end" dx="0 -0.85">50</text>
<text x="47.678" y="58.777" text-anchor="end">60</text>
<text x="490.5" y="576.773" text-anchor="middle">Time (UTC)</text>
<text x="19.66" y="285.75" text-anchor="middle" transform="rotate(-90 19.66 285.75)">Bistatic Delay (km)</text>
</g>
<text x="490.5" y="24.167" text-anchor="middle" font-size="16.667" transform="translate(0 24.167) scale(1 1.075) translate(0 -24.167)">Detections in Delay</text>
</svg>
</body></html>
